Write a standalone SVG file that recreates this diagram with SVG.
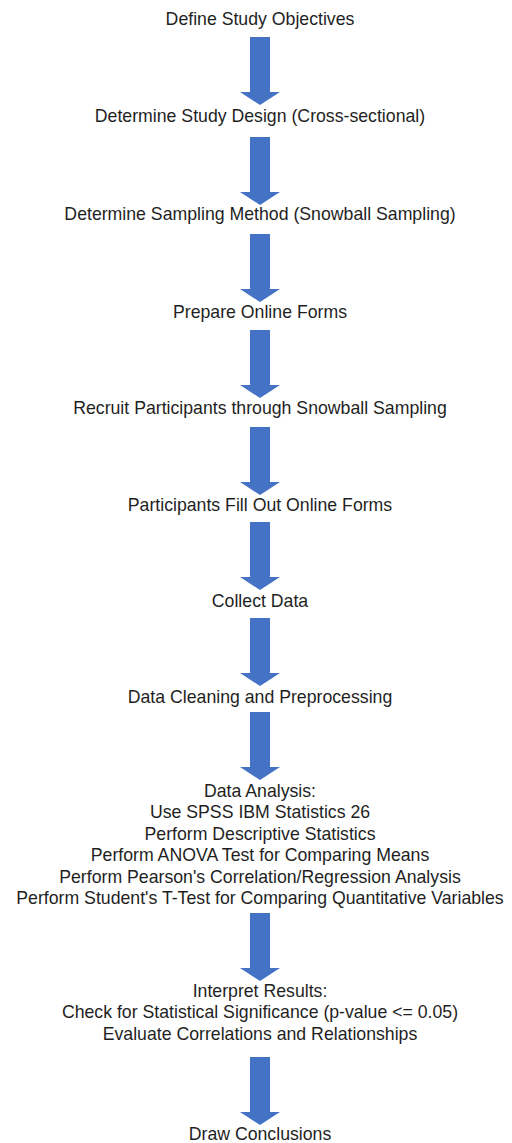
<svg xmlns="http://www.w3.org/2000/svg" xmlns:xlink="http://www.w3.org/1999/xlink" width="512" height="1143" viewBox="0 0 512 1143">
<style>
text{font-family:"Liberation Sans",Arial,sans-serif;font-size:17.7px;fill:#1f1f1f;text-anchor:middle}
.arr{fill:#4472C4}
</style>
<defs>
<path id="arrow" class="arr" d="M250,0 H270 V55 H280 L260,68 L240,55 H250 Z"/>
</defs>
<rect width="512" height="1143" fill="#ffffff"/>
<g id="connectors">
<use xlink:href="#arrow" href="#arrow" y="37"/>
<use xlink:href="#arrow" href="#arrow" y="137"/>
<use xlink:href="#arrow" href="#arrow" y="234"/>
<use xlink:href="#arrow" href="#arrow" y="330"/>
<use xlink:href="#arrow" href="#arrow" y="427"/>
<use xlink:href="#arrow" href="#arrow" y="522"/>
<use xlink:href="#arrow" href="#arrow" y="618"/>
<use xlink:href="#arrow" href="#arrow" y="712"/>
<use xlink:href="#arrow" href="#arrow" y="913"/>
<use xlink:href="#arrow" href="#arrow" y="1057"/>
</g>
<g id="n1"><text x="260" y="25">Define Study Objectives</text></g>
<g id="n2"><text x="260" y="122">Determine Study Design (Cross-sectional)</text></g>
<g id="n3"><text x="260" y="220">Determine Sampling Method (Snowball Sampling)</text></g>
<g id="n4"><text x="260" y="318">Prepare Online Forms</text></g>
<g id="n5"><text x="260" y="414">Recruit Participants through Snowball Sampling</text></g>
<g id="n6"><text x="260" y="511">Participants Fill Out Online Forms</text></g>
<g id="n7"><text x="260" y="607">Collect Data</text></g>
<g id="n8"><text x="260" y="703">Data Cleaning and Preprocessing</text></g>
<g id="n9"><text x="260" y="797">Data Analysis:<tspan x="260" dy="21.4">Use SPSS IBM Statistics 26</tspan><tspan x="260" dy="21.4">Perform Descriptive Statistics</tspan><tspan x="260" dy="21.4">Perform ANOVA Test for Comparing Means</tspan><tspan x="260" dy="21.4">Perform Pearson's Correlation/Regression Analysis</tspan><tspan x="260" dy="21.4">Perform Student's T-Test for Comparing Quantitative Variables</tspan></text></g>
<g id="n10"><text x="260" y="997">Interpret Results:<tspan x="260" dy="21.4">Check for Statistical Significance (p-value &lt;= 0.05)</tspan><tspan x="260" dy="21.4">Evaluate Correlations and Relationships</tspan></text></g>
<g id="n11"><text x="260" y="1140">Draw Conclusions</text></g>
</svg>
